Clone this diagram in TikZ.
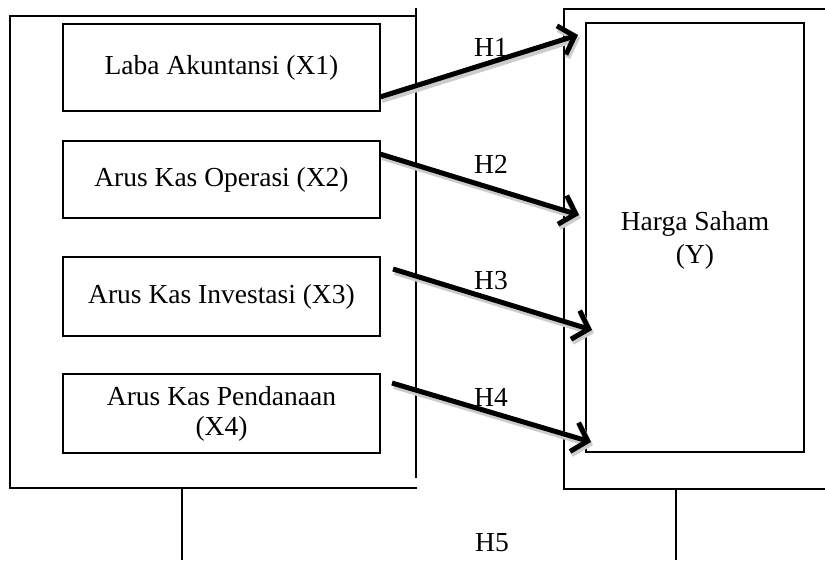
\documentclass[tikz,border=0pt]{standalone}
\usepackage{fontspec}
\setmainfont{Liberation Serif}
\usetikzlibrary{arrows.meta}
\begin{document}
\begin{tikzpicture}[x=1pt,y=-1pt,
  frame/.style={draw=black, line width=1.6pt},
  varbox/.style={draw=black, line width=1.6pt, minimum width=317pt, inner sep=0pt, align=center,
    font=\fontsize{27.5}{31}\selectfont},
  lbl/.style={font=\fontsize{27.5}{31}\selectfont, inner sep=0pt},
  hyparrow/.style={draw=black, line width=5pt, -{Straight Barb[length=14pt,width=30pt]}},
  hypshadow/.style={draw=black!20, line width=6pt, -{Straight Barb[length=14pt,width=30pt]}}
]
\useasboundingbox (0,0) rectangle (825,560);
\fill[white] (0,0) rectangle (825,560);

% left outer frame
\coordinate (lTL) at (10,16);
\coordinate (lTR) at (416,16);
\coordinate (lBL) at (10,488);
\coordinate (lBR) at (417,488);
\draw[frame] (lTR) -- (lTL) -- (lBL) -- (lBR);
\draw[frame] (416,8) -- (416,478);

% right outer frame
\draw[frame] (825,9) -- (564,9) -- (564,489) -- (825,489);

% inner right box
\node[draw=black, line width=1.4pt, minimum width=218pt, minimum height=429pt, inner sep=0pt]
  (y) at (695,237.5) {};
\node[lbl, align=center, font=\fontsize{27.5}{33}\selectfont] (ytext) at (695,240) {Harga Saham\\(Y)};

% variable boxes
\node[varbox, minimum height=87pt] (x1) at (221.5,67.5) {Laba Akuntansi (X1)};
\node[varbox, minimum height=77pt] (x2) at (221.5,179.5) {Arus Kas Operasi (X2)};
\node[varbox, minimum height=79pt] (x3) at (221.5,296.5) {Arus Kas Investasi (X3)};
\node[varbox, minimum height=79pt, font=\fontsize{27.5}{30}\selectfont] (x4) at (221.5,413.5) {Arus Kas Pendanaan\\(X4)};

% arrow end points
\coordinate (s1) at (380,97);
\coordinate (e1) at (578,35);
\coordinate (s2) at (380,154);
\coordinate (e2) at (579,215);
\coordinate (s3) at (393,269);
\coordinate (e3) at (592,330);
\coordinate (s4) at (392,383);
\coordinate (e4) at (591,442);

\foreach \i in {1,2,3,4}{
  \draw[hypshadow] ([shift={(2pt,-3pt)}]s\i) -- ([shift={(2pt,-3pt)}]e\i);
}
\foreach \i in {1,2,3,4}{
  \draw[hyparrow] (s\i) -- (e\i);
}

% labels
\node[lbl] (h1) at (491,47) {H1};
\node[lbl] (h2) at (491,164) {H2};
\node[lbl] (h3) at (491,281) {H3};
\node[lbl] (h4) at (491,397) {H4};
\node[lbl] (h5) at (492,543) {H5};

% drop lines
\coordinate (d1) at (182,560);
\coordinate (d2) at (676,560);
\draw[frame] (182,488) -- (d1);
\draw[frame] (676,489) -- (d2);
\end{tikzpicture}
\end{document}
